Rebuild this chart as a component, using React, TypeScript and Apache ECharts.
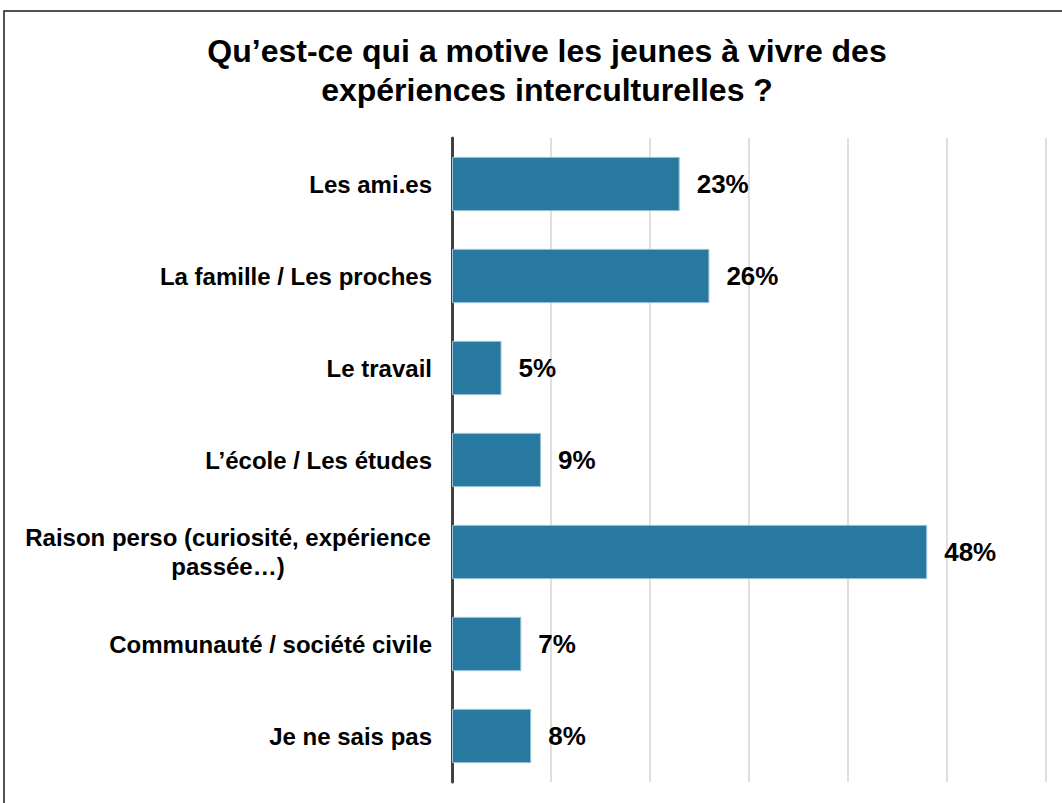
import React, { useEffect, useRef } from "react";
import * as echarts from "echarts";

const categories = [
  "Les ami.es",
  "La famille / Les proches",
  "Le travail",
  "L’école / Les études",
  "Raison perso (curiosité, expérience\npassée…)",
  "Communauté / société civile",
  "Je ne sais pas",
];
const values = [23, 26, 5, 9, 48, 7, 8];
const titleText = "Qu’est-ce qui a motive les jeunes à vivre des\nexpériences interculturelles ?";

const FONT = "'Liberation Sans', Arial, Helvetica, sans-serif";

export default function App() {
  const ref = useRef<HTMLDivElement>(null);
  useEffect(() => {
    document.body.style.margin = "0";
    const chart = echarts.init(ref.current!, null, { renderer: "svg" });
    chart.setOption({
      animation: false,
      backgroundColor: "#ffffff",
      textStyle: { fontFamily: FONT },
      title: {
        text: titleText,
        left: 542,
        top: 26,
        textAlign: "center",
        textStyle: {
          fontFamily: FONT,
          fontSize: 32,
          fontWeight: "bold",
          color: "#000000",
          lineHeight: 39,
        },
      },
      graphic: [
        {
          type: "rect",
          shape: { x: 4, y: 11, width: 1200, height: 1000 },
          style: { fill: "none", stroke: "#1a1a1a", lineWidth: 1.5 },
          silent: true,
        },
      ],
      grid: { left: 452, right: 16, top: 138, bottom: 21, containLabel: false },
      xAxis: {
        type: "value",
        min: 0,
        max: 60,
        interval: 10,
        axisLabel: { show: false },
        axisLine: { show: false },
        axisTick: { show: false },
        splitLine: { show: true, lineStyle: { color: "#d4d4d4", width: 1.5 } },
      },
      yAxis: {
        type: "category",
        inverse: true,
        data: categories,
        axisTick: { show: false },
        axisLine: { show: true, lineStyle: { color: "#404040", width: 3 } },
        axisLabel: {
          margin: 20,
          fontFamily: FONT,
          fontSize: 24,
          fontWeight: "bold",
          color: "#000000",
          lineHeight: 29,
          formatter: (v: string) => {
            if (v.indexOf("\n") >= 0) {
              return v
                .split("\n")
                .map((s) => "{c|" + s + "}")
                .join("\n");
            }
            return v;
          },
          rich: {
            c: {
              width: 408,
              align: "center",
              fontFamily: FONT,
              fontSize: 24,
              fontWeight: "bold",
              color: "#000000",
              lineHeight: 29,
            },
          },
        },
      },
      series: [
        {
          type: "bar",
          data: values,
          barCategoryGap: "41%",
          itemStyle: { color: "#28799f", borderColor: "#9cc4d8", borderWidth: 1 },
          label: {
            show: true,
            position: "right",
            distance: 17,
            formatter: "{c}%",
            fontFamily: FONT,
            fontSize: 26,
            fontWeight: "bold",
            color: "#000000",
          },
        },
      ],
    });
    return () => chart.dispose();
  }, []);
  return <div ref={ref} style={{ width: 1062, height: 803 }} />;
}
